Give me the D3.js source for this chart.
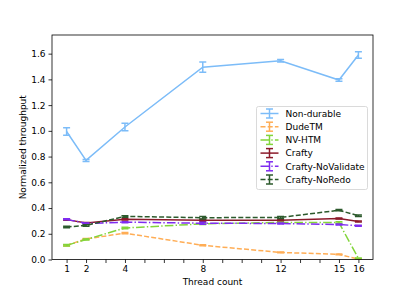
<!DOCTYPE html>
<html>
<head>
<meta charset="utf-8">
<script src="https://cdn.jsdelivr.net/npm/d3@7"></script>
<style>
body { margin: 0; background: #fff; }
text { font-family: "DejaVu Sans", sans-serif; fill: #000; }
</style>
</head>
<body>
<div id="chart"></div>
<script>
// ----------------------------------------------------------
// DATA -----------------------------------------------------
// ----------------------------------------------------------
var threads = [1, 2, 4, 8, 12, 15, 16];
var x_tick_labels = [1, 2, 4, 8, 12, 15, 16];
var y_ticks = [0.0, 0.2, 0.4, 0.6, 0.8, 1.0, 1.2, 1.4, 1.6];

var series_names = ["Non-durable", "DudeTM", "NV-HTM", "Crafty", "Crafty-NoValidate", "Crafty-NoRedo"];

var non_durable = [0.995, 0.77, 1.03, 1.495, 1.545, 1.395, 1.59];
var non_durable_err = [0.03, 0.008, 0.03, 0.04, 0.01, 0.01, 0.025];
var dudetm = [0.11, 0.16, 0.205, 0.11, 0.055, 0.04, 0.003];
var dudetm_err = [0.005, 0.004, 0.005, 0.004, 0.003, 0.003, 0.002];
var nvhtm = [0.11, 0.155, 0.245, 0.277, 0.288, 0.287, 0.008];
var nvhtm_err = [0.006, 0.004, 0.006, 0.004, 0.004, 0.006, 0.004];
var crafty = [0.31, 0.283, 0.312, 0.305, 0.305, 0.319, 0.295];
var crafty_err = [0.004, 0.004, 0.005, 0.008, 0.004, 0.004, 0.004];
var novalidate = [0.312, 0.28, 0.29, 0.282, 0.28, 0.272, 0.262];
var novalidate_err = [0.004, 0.004, 0.004, 0.008, 0.004, 0.004, 0.004];
var noredo = [0.253, 0.265, 0.335, 0.325, 0.327, 0.383, 0.34];
var noredo_err = [0.006, 0.006, 0.006, 0.01, 0.008, 0.005, 0.005];

var series_values = [non_durable, dudetm, nvhtm, crafty, novalidate, noredo];
var series_errors = [non_durable_err, dudetm_err, nvhtm_err, crafty_err, novalidate_err, noredo_err];

// ----------------------------------------------------------
// STYLE ----------------------------------------------------
// ----------------------------------------------------------
var colors = ["#7cbcf8", "#ffad55", "#82d53a", "#8b1a2a", "#7f2cf0", "#2c5a2c"];
var dashes = [null, "5,2.2", "8.6,2.2,1.4,2.2", null, "8.6,2.2,1.4,2.2", "5,2.2"];

var width = 415, height = 292;
var plot = {left: 52, right: 373, top: 35, bottom: 259.5};

var svg = d3.select("#chart").append("svg")
.attr("width", width)
.attr("height", height);

// ----------------------------------------------------------
// SCALES ---------------------------------------------------
// ----------------------------------------------------------
var x = d3.scaleLinear().domain([0.25, 16.75]).range([plot.left, plot.right]);
var y = d3.scaleLinear().domain([0, 1.745]).range([plot.bottom, plot.top]);

// ----------------------------------------------------------
// AXES -----------------------------------------------------
// ----------------------------------------------------------
var x_axis = d3.axisBottom(x)
.tickValues(d3.range(1, 17))
.tickSize(3.5)
.tickPadding(3)
.tickFormat(function(d) { return x_tick_labels.indexOf(d) >= 0 ? d : ""; });

var y_axis = d3.axisLeft(y)
.tickValues(y_ticks)
.tickSize(3.5)
.tickPadding(3)
.tickFormat(d3.format(".1f"));

var gx = svg.append("g")
.attr("transform", "translate(0," + plot.bottom + ")")
.call(x_axis);
var gy = svg.append("g")
.attr("transform", "translate(" + plot.left + ",0)")
.call(y_axis);

[gx, gy].forEach(function(g) {
g.select(".domain").remove();
g.selectAll(".tick line").attr("stroke", "#000").attr("stroke-width", 0.8);
g.selectAll(".tick text").style("font-size", "9px").style("font-family", "DejaVu Sans").attr("fill", "#000");
});

// axis labels
svg.append("text")
.attr("x", (plot.left + plot.right) / 2)
.attr("y", 285)
.attr("text-anchor", "middle")
.style("font-size", "9px")
.text("Thread count");

svg.append("text")
.attr("transform", "translate(26," + (plot.top + plot.bottom) / 2 + ") rotate(-90)")
.attr("text-anchor", "middle")
.style("font-size", "9px")
.text("Normalized throughput");

// ----------------------------------------------------------
// GFX ------------------------------------------------------
// ----------------------------------------------------------
var clip = svg.append("clipPath").attr("id", "plot_clip")
.append("rect")
.attr("x", plot.left).attr("y", plot.top)
.attr("width", plot.right - plot.left).attr("height", plot.bottom - plot.top);

var gfx = svg.append("g").attr("clip-path", "url(#plot_clip)");

var line = d3.line()
.x(function(d) { return x(d.t); })
.y(function(d) { return y(d.v); });

series_names.forEach(function(name, i) {
var pts = threads.map(function(t, j) {
return {t: t, v: series_values[i][j], e: series_errors[i][j]};
});
var g = gfx.append("g").attr("class", "series");
// error bars
pts.forEach(function(p) {
var cx = x(p.t), y0 = y(p.v - p.e), y1 = y(p.v + p.e);
g.append("line").attr("x1", cx).attr("x2", cx).attr("y1", y0).attr("y2", y1)
.attr("stroke", colors[i]).attr("stroke-width", 1.5);
[y0, y1].forEach(function(yy) {
g.append("line").attr("x1", cx - 3.5).attr("x2", cx + 3.5).attr("y1", yy).attr("y2", yy)
.attr("stroke", colors[i]).attr("stroke-width", 1.5);
});
});
g.append("path")
.datum(pts)
.attr("d", line)
.attr("fill", "none")
.attr("stroke", colors[i])
.attr("stroke-width", 1.5)
.attr("stroke-dasharray", dashes[i]);
});

// frame
svg.append("rect")
.attr("x", plot.left).attr("y", plot.top)
.attr("width", plot.right - plot.left).attr("height", plot.bottom - plot.top)
.attr("fill", "none")
.attr("stroke", "#000")
.attr("stroke-width", 0.8);

// ----------------------------------------------------------
// LEGEND ---------------------------------------------------
// ----------------------------------------------------------
var legend = svg.append("g").attr("transform", "translate(256.5,106.5)");
legend.append("rect")
.attr("width", 111)
.attr("height", 83)
.attr("rx", 2)
.attr("fill", "#fff")
.attr("fill-opacity", 0.8)
.attr("stroke", "#d0d0d0")
.attr("stroke-width", 0.8);

series_names.forEach(function(name, i) {
var ly = 7 + i * 13.2;
var row = legend.append("g").attr("transform", "translate(0," + ly + ")");
row.append("line").attr("x1", 4).attr("x2", 22).attr("y1", 0).attr("y2", 0)
.attr("stroke", colors[i]).attr("stroke-width", 1.5).attr("stroke-dasharray", dashes[i]);
row.append("line").attr("x1", 13).attr("x2", 13).attr("y1", -4.5).attr("y2", 4.5)
.attr("stroke", colors[i]).attr("stroke-width", 1.5);
[-4.5, 4.5].forEach(function(yy) {
row.append("line").attr("x1", 9.5).attr("x2", 16.5).attr("y1", yy).attr("y2", yy)
.attr("stroke", colors[i]).attr("stroke-width", 1.5);
});
row.append("text")
.attr("x", 29)
.attr("y", 3.3)
.style("font-size", "9px")
.text(name);
});
</script>
</body>
</html>
